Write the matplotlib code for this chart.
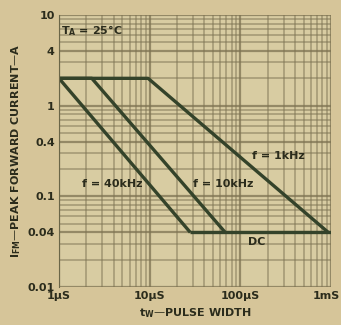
import matplotlib
matplotlib.use('Agg')
import matplotlib.pyplot as plt
import matplotlib.transforms as mtransforms
from matplotlib.ticker import FixedLocator, LogLocator, NullFormatter

# pulse width in microseconds, peak current in A
TW_40K = [1, 28]
I_40K = [2, 0.04]
TW_10K = [1, 2.3, 68]
I_10K = [2, 2, 0.04]
TW_1K = [1, 9.6, 930]
I_1K = [2, 2, 0.04]
TW_DC = [28, 1000]
I_DC = [0.04, 0.04]

X_TICKS = [1, 10, 100, 1000]
X_LABELS = ['1µS', '10µS', '100µS', '1mS']
Y_TICKS = [0.01, 0.04, 0.1, 0.4, 1, 4, 10]
Y_LABELS = ['0.01', '0.04', '0.1', '0.4', '1', '4', '10']

BG = '#d6c599'
PLOT_BG = '#d8cca2'
INK = '#2b2c1c'
CURVE = '#34432a'
GRID = '#7d7352'

fig = plt.figure(figsize=(3.41, 3.25), dpi=100, facecolor=BG)
ax = fig.add_axes([0.173, 0.117, 0.798, 0.837], facecolor=PLOT_BG)
ax.set_xscale('log')
ax.set_yscale('log')
ax.set_xlim(1, 1000)
ax.set_ylim(0.01, 10)

ax.grid(True, which='major', color=GRID, lw=1.6, alpha=0.75)
ax.grid(True, which='minor', color=GRID, lw=1.1, alpha=0.6)
ax.xaxis.set_minor_locator(LogLocator(subs=range(2, 10)))
ax.yaxis.set_minor_locator(LogLocator(subs=range(2, 10)))
ax.xaxis.set_minor_formatter(NullFormatter())
ax.yaxis.set_minor_formatter(NullFormatter())
ax.xaxis.set_major_locator(FixedLocator(X_TICKS))
ax.yaxis.set_major_locator(FixedLocator(Y_TICKS))
ax.set_xticklabels(X_LABELS)
ax.set_yticklabels(Y_LABELS)
ax.tick_params(which='both', length=0, pad=3, labelsize=8, colors=INK)
for lab in ax.get_xticklabels() + ax.get_yticklabels():
    lab.set_fontweight('bold')
# last x label sits against the right edge, as in the scan
last = ax.get_xticklabels()[-1]
last.set_horizontalalignment('right')
last.set_transform(last.get_transform() +
                   mtransforms.ScaledTranslation(0.09, 0, fig.dpi_scale_trans))

for s in ax.spines.values():
    s.set_visible(False)
ax.spines['left'].set_visible(True)
ax.spines['left'].set_color('#6a6648')

for x, y in [(TW_40K, I_40K), (TW_10K, I_10K), (TW_1K, I_1K), (TW_DC, I_DC)]:
    ax.plot(x, y, color=CURVE, lw=2.4, solid_capstyle='butt')

txt = dict(color=INK, fontsize=8, fontweight='bold')
ax.text(1.05, 6.2, 'T$_\\mathregular{A}$ = 25°C', **txt)
ax.text(1.8, 0.128, 'f = 40kHz', **txt)
ax.text(30, 0.128, 'f = 10kHz', **txt)
ax.text(135, 0.26, 'f = 1kHz', **txt)
ax.text(120, 0.029, 'DC', **txt)

ax.set_xlabel('t$_\\mathregular{W}$—PULSE WIDTH', color=INK, fontsize=8,
              fontweight='bold', labelpad=4)
ax.set_ylabel('I$_\\mathregular{FM}$—PEAK FORWARD CURRENT—A', color=INK,
              fontsize=8, fontweight='bold', labelpad=3)

fig.savefig('out.png', dpi=100, facecolor=BG)
